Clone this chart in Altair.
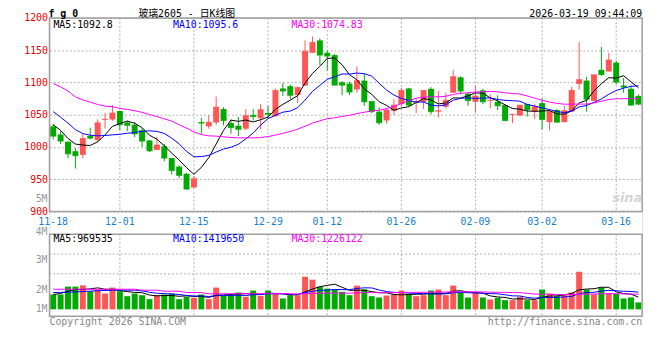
import altair as alt
import pandas as pd

# ---------------- data ----------------
dates = (
    ["2025-11-%02d" % d for d in [18, 19, 20, 21, 24, 25, 26, 27, 28]]
    + ["2025-12-%02d" % d for d in [1, 2, 3, 4, 5, 8, 9, 10, 11, 12, 15, 16, 17, 18, 19, 22, 23, 24, 25, 26, 29, 30, 31]]
    + ["2026-01-%02d" % d for d in [5, 6, 7, 8, 9, 12, 13, 14, 15, 16, 19, 20, 21, 22, 23, 26, 27, 28, 29, 30]]
    + ["2026-02-%02d" % d for d in [2, 3, 4, 5, 6, 9, 10, 11, 12, 13, 24, 25, 26, 27]]
    + ["2026-03-%02d" % d for d in [2, 3, 4, 5, 6, 9, 10, 11, 12, 13, 16, 17, 18, 19]]
)

opens = [1032.0, 1019.3, 1008.2, 993.5, 987.9, 1017.3, 1010.7, 1042.0, 1042.6, 1055.8,
         1038.0, 1034.5, 1025.9, 1010.2, 995.5, 1001.1, 982.8, 969.7, 958.5, 937.2,
         1038.5, 1032.0, 1038.0, 1058.8, 1037.0, 1033.0, 1028.4, 1049.7, 1044.6, 1052.7,
         1047.7, 1090.7, 1094.3, 1080.6, 1095.3, 1146.0, 1165.2, 1146.0, 1142.4, 1100.4,
         1098.3, 1089.2, 1102.9, 1071.0, 1054.8, 1041.1, 1056.3, 1066.4, 1090.7, 1068.9,
         1070.0, 1090.2, 1054.8, 1062.4, 1084.1, 1108.0, 1082.6, 1070.0, 1087.7, 1071.5,
         1070.0, 1064.9, 1049.7, 1048.7, 1066.4, 1054.8, 1068.0, 1038.5, 1057.3, 1038.5,
         1054.8, 1097.8, 1102.9, 1071.5, 1119.6, 1117.1, 1130.8, 1095.3, 1090.2, 1079.1]
highs = [1036.0, 1024.4, 1009.0, 998.0, 1020.3, 1030.0, 1042.6, 1052.7, 1064.9, 1056.0,
         1040.6, 1038.5, 1029.4, 1010.2, 1015.7, 1004.6, 982.8, 971.7, 960.0, 955.0,
         1045.1, 1048.7, 1078.1, 1061.8, 1042.6, 1046.7, 1058.8, 1058.8, 1066.4, 1063.9,
         1090.7, 1099.3, 1096.8, 1093.3, 1165.2, 1171.3, 1168.2, 1149.0, 1144.0, 1101.9,
         1101.4, 1124.7, 1114.5, 1071.0, 1061.3, 1059.8, 1074.0, 1091.7, 1091.7, 1075.5,
         1087.7, 1092.8, 1086.7, 1084.1, 1119.6, 1109.5, 1084.1, 1095.3, 1090.2, 1081.6,
         1080.1, 1066.4, 1051.2, 1065.4, 1066.4, 1066.4, 1075.0, 1057.8, 1058.8, 1063.9,
         1093.3, 1162.7, 1108.5, 1112.0, 1155.0, 1146.0, 1133.8, 1106.9, 1095.3, 1081.6]
lows = [1011.7, 1004.6, 982.8, 966.6, 982.8, 1011.7, 1008.2, 1028.4, 1040.6, 1025.9,
        1024.4, 1015.2, 1000.0, 992.0, 995.5, 977.8, 957.5, 951.4, 934.0, 937.0,
        1019.3, 1028.4, 1034.5, 1033.5, 1020.8, 1016.8, 1025.9, 1041.1, 1027.4, 1044.6,
        1047.0, 1079.1, 1074.0, 1068.0, 1095.0, 1146.0, 1127.2, 1118.6, 1095.8, 1080.1,
        1080.6, 1084.1, 1063.9, 1052.7, 1034.5, 1036.0, 1049.7, 1062.9, 1062.9, 1052.7,
        1058.8, 1050.7, 1045.6, 1060.3, 1084.1, 1081.6, 1063.9, 1053.7, 1066.4, 1059.8,
        1057.3, 1039.6, 1037.0, 1048.0, 1047.2, 1043.6, 1027.4, 1025.9, 1037.5, 1038.5,
        1054.8, 1089.2, 1054.8, 1071.5, 1110.5, 1117.1, 1096.8, 1084.1, 1063.9, 1064.9]
closes = [1016.8, 1009.2, 989.4, 986.4, 1013.2, 1013.7, 1037.5, 1043.0, 1052.7, 1034.5,
          1033.5, 1020.3, 1009.2, 994.0, 1003.1, 982.8, 963.6, 956.0, 934.7, 950.9,
          1037.0, 1038.5, 1061.8, 1041.1, 1030.0, 1027.4, 1048.7, 1047.2, 1057.8, 1050.7,
          1087.7, 1086.7, 1080.1, 1092.3, 1148.5, 1162.2, 1142.4, 1140.9, 1095.8, 1095.8,
          1085.2, 1102.9, 1070.0, 1054.8, 1037.5, 1057.3, 1064.9, 1087.7, 1064.9, 1070.0,
          1087.7, 1054.8, 1056.3, 1072.5, 1109.0, 1086.7, 1072.0, 1079.1, 1070.0, 1072.5,
          1063.9, 1041.1, 1050.7, 1064.9, 1057.8, 1062.4, 1042.6, 1054.8, 1038.5, 1056.3,
          1087.7, 1104.4, 1074.0, 1112.0, 1112.0, 1134.8, 1100.4, 1092.8, 1064.9, 1066.4]
volumes = [1210000, 1210000, 1855000, 1855000, 1960000, 1476000, 1613000, 1290000, 1774000, 1476000,
           1073000, 1290000, 1153000, 831000, 1153000, 1210000, 1290000, 831000, 1024000, 944000,
           1210000, 831000, 1774000, 1105000, 1153000, 1371000, 1024000, 1532000, 1105000, 1532000,
           1234000, 887000, 1153000, 1153000, 2661000, 2419000, 1855000, 1694000, 1613000, 1427000,
           1153000, 1935000, 1637000, 1073000, 968000, 1129000, 1210000, 1532000, 1210000, 1073000,
           1153000, 1532000, 1613000, 1153000, 1935000, 1371000, 968000, 1371000, 968000, 806000,
           944000, 750000, 750000, 1024000, 750000, 750000, 1613000, 1290000, 1073000, 1153000,
           1371000, 3065000, 1613000, 1210000, 1774000, 1290000, 1266000, 887000, 968000, 565000]

# moving-average values before the window is full
ma5_head = [1034.5, 1025.9, 1013.2, 1004.6]
ma10_head = [1054.8, 1046.2, 1037.0, 1026.9, 1020.8, 1018.3, 1017.3, 1017.8, 1018.8]
ma30_head = [1098.3, 1093.3, 1086.7, 1077.6, 1073.0, 1069.5, 1065.9, 1063.4, 1062.4, 1059.8,
             1058.3, 1056.3, 1053.7, 1050.2, 1047.2, 1043.6, 1040.1, 1034.5, 1029.4, 1023.4,
             1019.3, 1017.3, 1016.8, 1015.8, 1014.7, 1014.2, 1014.2, 1014.2, 1014.7]
vma5_head = [1210000, 1290000, 1480000, 1610000]
vma10_head = [1370000, 1380000, 1400000, 1420000, 1450000, 1480000, 1510000, 1540000, 1560000]
vma30_head = [1640000] * 12 + [1560000] * 3 + [1480000] * 3 + [1370000] * 3 + [1270000] * 8

date_ticks = ["2025-11-18", "2025-12-01", "2025-12-15", "2025-12-29", "2026-01-12",
              "2026-01-26", "2026-02-09", "2026-03-02", "2026-03-16"]
price_ticks = [900, 950, 1000, 1050, 1100, 1150, 1200]
vol_labels = ["5M", "4M", "3M", "2M", "1M"]
vol_label_pos = [9030000, 6300000, 4030000, 1610000, 0]

title_code = "f g 0"
title_name = "玻璃2605 - 日K线图"
timestamp = "2026-03-19 09:44:09"
price_legend = ["MA5:1092.8", "MA10:1095.6", "MA30:1074.83"]
vol_legend = ["MA5:969535", "MA10:1419650", "MA30:1226122"]
ma_colors = ["#000000", "#0000ff", "#ff00ff"]

# ---------------- frames ----------------
df = pd.DataFrame({"date": dates, "open": opens, "high": highs, "low": lows,
                   "close": closes, "vol": volumes})
df["dir"] = ["up" if c >= o else "down" for o, c in zip(opens, closes)]
for name, col, n, head in [("ma5", "close", 5, ma5_head), ("ma10", "close", 10, ma10_head),
                           ("ma30", "close", 30, ma30_head), ("vma5", "vol", 5, vma5_head),
                           ("vma10", "vol", 10, vma10_head), ("vma30", "vol", 30, vma30_head)]:
    s = df[col].rolling(n).mean()
    s.iloc[:len(head)] = head
    df[name] = s

grid_df = pd.DataFrame({"date": date_ticks[1:]})
vlab_df = pd.DataFrame({"label": vol_labels, "pos": vol_label_pos})
one = pd.DataFrame({"k": [0]})

MONO = "DejaVu Sans Mono"
RED, GREEN = "#ff5555", "#00aa00"
W, H = 600, 302
PB = 196           # price panel bottom (px from plot top)
VT, VB = 219, 302  # volume panel top / bottom
V0 = 295           # zero line of volume bars

xscale = alt.Scale(domain=dates, paddingInner=0.2, paddingOuter=0.1)
xaxis = alt.Axis(values=date_ticks, labelExpr="slice(datum.value, 5)", orient="bottom",
                 offset=-(H - PB) + 1, domain=False, ticks=False, grid=False, labelAngle=0,
                 labelColor="#1a7fd0", labelFont=MONO, labelFontSize=10, labelPadding=4,
                 title=None)
X = alt.X("date:O", scale=xscale, axis=xaxis)
color = alt.Color("dir:N", scale=alt.Scale(domain=["up", "down"], range=[RED, GREEN]), legend=None)

pscale = alt.Scale(domain=[900, 1200], range=[PB, 0], nice=False, zero=False)
paxis = alt.Axis(values=price_ticks, format="d", grid=True, gridDash=[2, 2], gridColor="#b0b0b0",
                 domain=False, ticks=False, labelColor="#ee0000", labelFont=MONO,
                 labelFontSize=10, labelPadding=2, title=None, orient="left")

base = alt.Chart(df)

# price panel
vgrid_p = alt.Chart(grid_df).mark_rule(color="#b0b0b0", strokeDash=[2, 2], strokeWidth=1).encode(
    x=X, y=alt.value(0), y2=alt.value(PB))
wicks = base.mark_rule(strokeWidth=1).encode(
    x=X, y=alt.Y("low:Q", scale=pscale, axis=paxis), y2="high:Q", color=color)
bodies = base.mark_bar().encode(
    x=X, y=alt.Y("open:Q", scale=pscale, axis=paxis), y2="close:Q", color=color)
doji = base.mark_tick(thickness=1).encode(
    x=X, y=alt.Y("close:Q", scale=pscale, axis=paxis), color=color)
ma_lines = [base.mark_line(color=c, strokeWidth=1).encode(
    x=X, y=alt.Y(f"{m}:Q", scale=pscale, axis=paxis)) for m, c in zip(["ma5", "ma10", "ma30"], ma_colors)]
pframe = alt.Chart(one).mark_rect(fillOpacity=0, stroke="#a0a0a0", strokeWidth=1.5).encode(
    x=alt.value(0), x2=alt.value(W), y=alt.value(0), y2=alt.value(PB))
plegend = [alt.Chart(one).mark_text(align="left", baseline="middle", font=MONO, fontSize=10,
                                    color=c).encode(x=alt.value(px), y=alt.value(7), text=alt.value(t))
           for t, c, px in zip(price_legend, ma_colors, [4, 125, 245])]
price = alt.layer(vgrid_p, wicks, bodies, doji, *ma_lines, pframe, *plegend)

# volume panel
vscale = alt.Scale(domain=[0, 6129000], range=[V0, VT], nice=False, zero=False)
vgrid_v = alt.Chart(grid_df).mark_rule(color="#b0b0b0", strokeDash=[2, 2], strokeWidth=1).encode(
    x=X, y=alt.value(VT), y2=alt.value(VB))
hgrid_v = [alt.Chart(one).mark_rule(color="#b0b0b0", strokeDash=[2, 2], strokeWidth=1).encode(
    x=alt.value(0), x2=alt.value(W), y=alt.value(yy)) for yy in [239, 259]]
vbars = base.mark_bar().encode(x=X, y=alt.Y("vol:Q", scale=vscale, axis=None), color=color)
vma_lines = [base.mark_line(color=c, strokeWidth=1).encode(
    x=X, y=alt.Y(f"{m}:Q", scale=vscale, axis=None)) for m, c in zip(["vma5", "vma10", "vma30"], ma_colors)]
vlabels = alt.Chart(vlab_df).mark_text(align="right", baseline="middle", font=MONO, fontSize=10,
                                       color="#999999").encode(
    x=alt.value(-2), y=alt.Y("pos:Q", scale=vscale, axis=None), text="label:N")
vframe = alt.Chart(one).mark_rect(fillOpacity=0, stroke="#a0a0a0", strokeWidth=1.5).encode(
    x=alt.value(0), x2=alt.value(W), y=alt.value(VT), y2=alt.value(VB))
vlegend = [alt.Chart(one).mark_text(align="left", baseline="middle", font=MONO, fontSize=10,
                                    color=c).encode(x=alt.value(px), y=alt.value(VT + 5), text=alt.value(t))
           for t, c, px in zip(vol_legend, ma_colors, [4, 125, 245])]
vol = alt.layer(vgrid_v, *hgrid_v, vbars, *vma_lines, vlabels, vframe, *vlegend)

# header / footer text
def txt(t, x, y, align="left", size=10, color="#000000", weight="normal", font=MONO,
        style="normal", baseline="middle"):
    return alt.Chart(one).mark_text(align=align, baseline=baseline, font=font, fontSize=size,
                                    color=color, fontWeight=weight, fontStyle=style).encode(
        x=alt.value(x), y=alt.value(y), text=alt.value(t))

texts = [
    txt(title_code, -1, -0.5, size=10, weight="bold", baseline="alphabetic"),
    txt(title_name, 90, -1, size=10, font=MONO + ", Noto Sans CJK SC", baseline="alphabetic"),
    txt(timestamp, 600, -1, align="right", baseline="alphabetic"),
    txt("Copyright 2026 SINA.COM", 0, 308, color="#888888"),
    txt("http://finance.sina.com.cn", 600, 308, align="right", color="#888888"),
    txt("sina", 600, 182, align="right", size=13, color="#d4d4d4", weight="bold",
        font="DejaVu Sans", style="italic"),
]

chart = alt.layer(price, vol, *texts).resolve_scale(y="independent").properties(
    width=W, height=H,
    autosize=alt.AutoSizeParams(type="none"),
    padding={"left": 42, "top": 8, "right": 10, "bottom": 22},
).configure_view(stroke=None).configure(background="white")

chart.save("out.html", embed_options={"renderer": "svg", "actions": False})
